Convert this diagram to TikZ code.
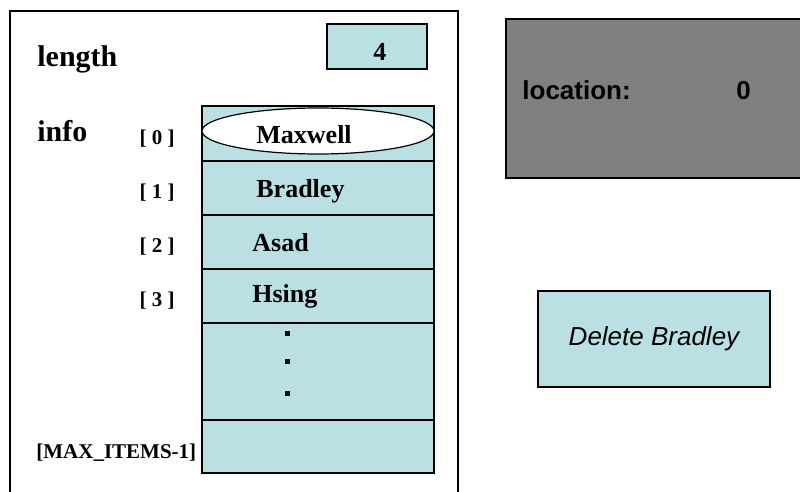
\documentclass[tikz,border=0pt]{standalone}
\usepackage{fontspec}
\setmainfont{Liberation Serif}
\setsansfont{Liberation Sans}
\usetikzlibrary{shapes,positioning}
\definecolor{cellblue}{RGB}{187,224,227}
\definecolor{boxgray}{RGB}{128,128,128}

\begin{document}
\begin{tikzpicture}[x=0.5pt,y=-0.5pt]
\tikzstyle{cell}=[rectangle, draw=black, fill=cellblue, minimum width=116pt, inner sep=0pt, line width=0.6pt]
\tikzstyle{word}=[font=\bfseries\fontsize{15}{15}\selectfont, anchor=base west, inner sep=0pt]
\tikzstyle{entry}=[font=\bfseries\fontsize{13}{13}\selectfont, anchor=base west, inner sep=0pt]
\tikzstyle{index}=[font=\bfseries\fontsize{10.5}{10.5}\selectfont, anchor=base, inner sep=0pt]
\tikzstyle{sanslabel}=[font=\sffamily\bfseries\fontsize{13}{13}\selectfont, anchor=base west, inner sep=0pt]
\tikzstyle{dot}=[rectangle, fill=black, minimum size=2.5pt, inner sep=0pt]
\clip (0,0) rectangle (800,492);
\fill[white] (0,0) rectangle (800,492);

% outer frame of the list
\draw[line width=1pt] (10,510) -- (10,11) -- (458,11) -- (458,510);

\node[cell, minimum width=50pt, minimum height=22.5pt] (lenbox) at (377,46.5) {};
\node[word] (lenlabel) at (37,67) {length};
\node[entry] (lenval) at (373,61) {4};

% array cells
\foreach \top/\bot/\name in {106/161/r0, 161/215/r1, 215/269/r2, 269/323/r3, 323/420/r4, 420/473/rmax}
	\node[cell, minimum height=(\bot-\top)*0.5pt] (\name) at (318,{(\top+\bot)/2}) {};
\node[ellipse, draw=black, fill=white, minimum width=116pt, minimum height=23pt, inner sep=0pt, line width=0.6pt] (oval) at (318,131) {};

\node[word] (infolabel) at (37,142) {info};
\node[index] (i0) at (157,145) {[ 0 ]};
\node[index] (i1) at (157,199) {[ 1 ]};
\node[index] (i2) at (157,253) {[ 2 ]};
\node[index] (i3) at (157,307) {[ 3 ]};
\node[index, anchor=base west] (imax) at (36,459) {[MAX\_ITEMS-1]};

\node[entry] (n0) at (256,144) {Maxwell};
\node[entry] (n1) at (256,198) {Bradley};
\node[entry] (n2) at (252,252) {Asad};
\node[entry] (n3) at (252,303) {Hsing};
\foreach \y in {334,362,394}
	\node[dot] (dot\y) at (287,\y) {};

% location box
\node[rectangle, draw=black, fill=boxgray, minimum width=162pt, minimum height=79.5pt, line width=0.6pt] (locbox) at (668,98.5) {};
\node[sanslabel] (loclabel) at (522,100) {location:};
\node[sanslabel] (locval) at (736,100) {0};

% operation box
\node[rectangle, draw=black, fill=cellblue, minimum width=116pt, minimum height=48pt, line width=0.6pt, font=\sffamily\itshape\fontsize{13}{13}\selectfont] (op) at (654,339) {Delete Bradley};
\end{tikzpicture}
\end{document}
